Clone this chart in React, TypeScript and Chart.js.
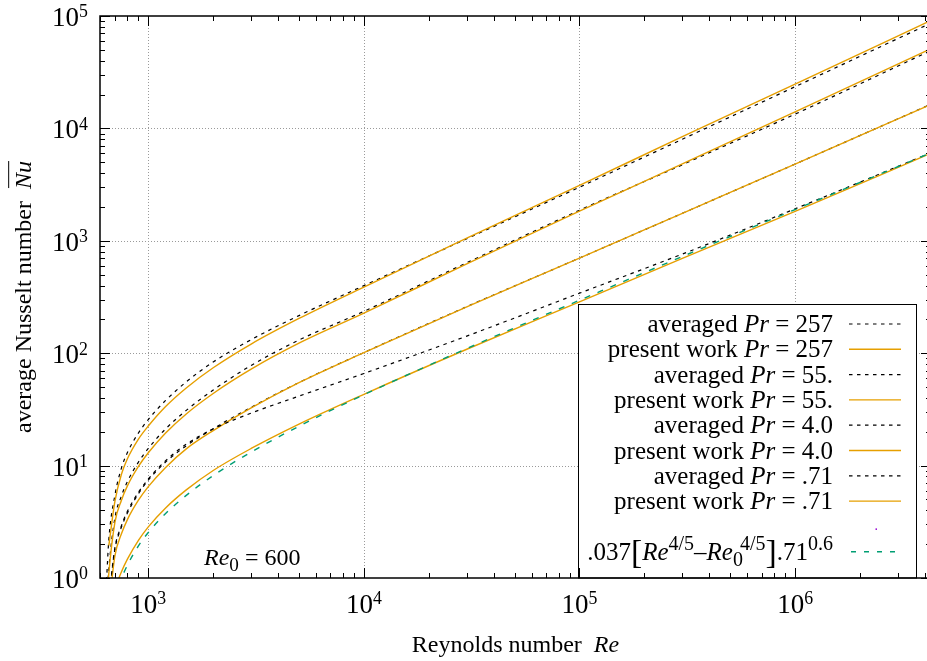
import { useEffect, useRef } from "react";
import { Chart, registerables } from "chart.js";

Chart.register(...registerables);

// Sampled Reynolds numbers shared by every curve
const reynolds = [640, 656, 700, 750, 800, 900, 1000, 1200, 1500, 2000, 3000, 5000, 1e4, 3e4, 1e5, 3e5, 1e6, 4.25e6];

// Average Nusselt number for each curve (null = not sampled)
const averaged257 = [0.95, 2.2, 5.45, 9.46, 13.06, 19.5, 25.7, 37.8, 55.6, 83.5, 132, 216, 399, 1043, 2999, 8012, 23500, 86200];
const present257 = [null, 1.94, 4.8, 8.33, 11.5, 17.2, 22.5, 33.4, 49.1, 74.2, 120.6, 203.6, 388, 1058, 3115, 8436, 24800, 91000];
const averaged55 = [0.6, 1.21, 3.42, 5.35, 7.2, 10.74, 14.2, 21.1, 31.0, 47.0, 77.8, 130.9, 235.6, 638, 1869, 4748, 13400, 49100];
const present55 = [0.55, 1.1, 3.13, 4.9, 6.6, 9.83, 13.0, 19.4, 28.8, 43.8, 72.1, 122.7, 227, 622.6, 1840, 4833, 14000, 51000];
const averaged4 = [null, 0.64, 1.8, 2.82, 3.79, 5.63, 7.43, 10.7, 15.0, 21.3, 33.0, 54.9, 101.3, 259.5, 702, 1756, 4813, 16350];
const present4 = [null, 0.55, 1.57, 2.46, 3.31, 4.92, 6.5, 9.59, 14.1, 20.5, 32.6, 54.7, 101.1, 258.8, 700.4, 1756, 4800, 16310];
const averaged071 = [null, 0.66, 1.86, 2.91, 3.92, 5.78, 7.6, 11.0, 15.5, 21.2, 29.3, 41.5, 66, 142, 342, 762, 1925, 6050];
const present071 = [null, 0.48, 0.79, 1.13, 1.47, 2.16, 2.85, 4.18, 6.08, 9.05, 14.2, 23.4, 43.1, 108.4, 285.6, 697, 1824, 5984];
const correlation071 = [null, 0.37, 0.66, 0.985, 1.3, 1.93, 2.54, 3.73, 5.43, 8.15, 13.2, 22.4, 42.7, 110, 296, 725, 1896, 6044];

// Axis ranges and tick decades
const RE_MIN = 597;
const RE_MAX = 4.27e6;
const NU_MIN = 1;
const NU_MAX = 1e5;
const xDecades = [3, 4, 5, 6];
const yDecades = [0, 1, 2, 3, 4, 5];

const legendTitles = [
  { lead: "averaged ", value: "257" },
  { lead: "present work ", value: "257" },
  { lead: "averaged ", value: "55." },
  { lead: "present work ", value: "55." },
  { lead: "averaged ", value: "4.0" },
  { lead: "present work ", value: "4.0" },
  { lead: "averaged ", value: ".71" },
  { lead: "present work ", value: ".71" },
];

const FONT = '"Liberation Serif", "Times New Roman", Times, serif';
const ORANGE = "#e69f00";
const GREEN = "#009e73";
const PURPLE = "#9400d3";

type Seg = { t: string; it?: boolean; sup?: boolean; sub?: boolean; big?: boolean; kern?: number; over?: boolean };

function segSize(s: Seg, size: number) {
  if (s.sup || s.sub) return size * 0.8;
  if (s.big) return size * 1.35;
  return size;
}
function segFont(s: Seg, size: number) {
  return `${s.it ? "italic " : ""}${segSize(s, size)}px ${FONT}`;
}
function segDy(s: Seg, size: number) {
  if (s.sup) return -size * 0.4;
  if (s.sub) return size * 0.25;
  if (s.big) return size * 0.13;
  return 0;
}
function richWidth(ctx: CanvasRenderingContext2D, segs: Seg[], size: number) {
  let w = 0;
  for (const s of segs) {
    w += s.kern || 0;
    ctx.font = segFont(s, size);
    w += ctx.measureText(s.t).width;
  }
  return w;
}
function drawRich(
  ctx: CanvasRenderingContext2D,
  segs: Seg[],
  x: number,
  y: number,
  size: number,
  align: "left" | "center" | "right"
) {
  const w = richWidth(ctx, segs, size);
  let cx = align === "left" ? x : align === "center" ? x - w / 2 : x - w;
  ctx.textAlign = "left";
  ctx.textBaseline = "alphabetic";
  ctx.fillStyle = "#000";
  for (const s of segs) {
    cx += s.kern || 0;
    ctx.font = segFont(s, size);
    const sw = ctx.measureText(s.t).width;
    ctx.fillText(s.t, cx, y + segDy(s, size));
    if (s.over) {
      ctx.save();
      ctx.strokeStyle = "#000";
      ctx.lineWidth = 1;
      ctx.beginPath();
      ctx.moveTo(cx + 1, y - size * 0.93);
      ctx.lineTo(cx + sw, y - size * 0.93);
      ctx.stroke();
      ctx.restore();
    }
    cx += sw;
  }
}

function tickLabel(ctx: CanvasRenderingContext2D, exp: number, x: number, y: number, align: "right" | "center") {
  const size = 27;
  const sup = size * 0.66;
  ctx.font = `${size}px ${FONT}`;
  const w1 = ctx.measureText("10").width;
  ctx.font = `${sup}px ${FONT}`;
  const w2 = ctx.measureText(String(exp)).width;
  const total = w1 + w2;
  const left = align === "right" ? x - total : x - total / 2;
  ctx.fillStyle = "#000";
  ctx.textAlign = "left";
  ctx.textBaseline = "alphabetic";
  ctx.font = `${size}px ${FONT}`;
  ctx.fillText("10", left, y);
  ctx.font = `${sup}px ${FONT}`;
  ctx.fillText(String(exp), left + w1, y - size * 0.32);
}

const framePlugin = {
  id: "gnuplotFrame",
  beforeDatasetsDraw(chart: any) {
    const { ctx, chartArea, scales } = chart;
    const { left, right, top, bottom } = chartArea;
    ctx.save();
    ctx.fillStyle = "#fff";
    ctx.fillRect(0, 0, chart.width, chart.height);
    ctx.strokeStyle = "#9a9a9a";
    ctx.lineWidth = 1;
    ctx.setLineDash([1, 2]);
    for (const d of xDecades) {
      const px = Math.round(scales.x.getPixelForValue(Math.pow(10, d))) + 0.5;
      ctx.beginPath();
      ctx.moveTo(px, top);
      ctx.lineTo(px, bottom);
      ctx.stroke();
    }
    for (const d of yDecades) {
      if (d === 0 || d === 5) continue;
      const py = Math.round(scales.y.getPixelForValue(Math.pow(10, d))) + 0.5;
      ctx.beginPath();
      ctx.moveTo(left, py);
      ctx.lineTo(right, py);
      ctx.stroke();
    }
    ctx.restore();
  },
  afterDatasetsDraw(chart: any) {
    const { ctx, chartArea, scales } = chart;
    const { left, right, top, bottom } = chartArea;
    ctx.save();

    // key box
    const boxL = 578.5, boxT = 304.5, boxR = 916.5;
    ctx.fillStyle = "#fff";
    ctx.fillRect(boxL, boxT, boxR - boxL, bottom - boxT);
    ctx.strokeStyle = "#000";
    ctx.lineWidth = 1;
    ctx.setLineDash([]);
    ctx.strokeRect(boxL, boxT, boxR - boxL, bottom - boxT);

    const LEG = 25;
    const textRight = 833;
    const sx0 = 849, sx1 = 901;
    const rowBase = (i: number) => 332 + 25.3 * i;
    legendTitles.forEach((t, i) => {
      drawRich(
        ctx,
        [{ t: t.lead }, { t: "Pr", it: true }, { t: " = " + t.value }],
        textRight,
        rowBase(i),
        LEG,
        "right"
      );
      const sy = rowBase(i) - 8;
      ctx.beginPath();
      if (i % 2 === 0) {
        ctx.strokeStyle = "#000";
        ctx.lineWidth = 1.2;
        ctx.setLineDash([3.5, 4.5]);
      } else {
        ctx.strokeStyle = ORANGE;
        ctx.lineWidth = 1.4;
        ctx.setLineDash([]);
      }
      ctx.moveTo(sx0, sy);
      ctx.lineTo(sx1, sy);
      ctx.stroke();
    });
    // point key for Re0
    ctx.fillStyle = PURPLE;
    ctx.fillRect(875.5, rowBase(8) - 6, 1.5, 1.5);
    // correlation key
    drawRich(
      ctx,
      [
        { t: ".037" },
        { t: "[", big: true },
        { t: "Re", it: true },
        { t: "4/5", sup: true },
        { t: "–" },
        { t: "Re", it: true },
        { t: "0", sub: true },
        { t: "4/5", sup: true, kern: -3 },
        { t: "]", big: true },
        { t: ".71" },
        { t: "0.6", sup: true },
      ],
      textRight,
      rowBase(9),
      LEG,
      "right"
    );
    ctx.beginPath();
    ctx.strokeStyle = GREEN;
    ctx.lineWidth = 1.4;
    ctx.setLineDash([5, 8]);
    ctx.moveTo(sx0 + 2, rowBase(9) - 8);
    ctx.lineTo(sx1, rowBase(9) - 8);
    ctx.stroke();

    // border
    ctx.setLineDash([]);
    ctx.strokeStyle = "#000";
    ctx.lineWidth = 1.5;
    ctx.strokeRect(left, top, right - left, bottom - top);

    // ticks
    ctx.lineWidth = 1;
    const majorLen = 10, minorLen = 5;
    for (let d = 0; d <= 5; d++) {
      for (let m = 1; m <= 9; m++) {
        const v = m * Math.pow(10, d);
        if (v < NU_MIN || v > NU_MAX) continue;
        const py = Math.round(scales.y.getPixelForValue(v)) + 0.5;
        const len = m === 1 ? majorLen : minorLen;
        ctx.beginPath();
        ctx.moveTo(left, py);
        ctx.lineTo(left + len, py);
        ctx.moveTo(right, py);
        ctx.lineTo(right - len, py);
        ctx.stroke();
      }
    }
    for (let d = 2; d <= 6; d++) {
      for (let m = 1; m <= 9; m++) {
        const v = m * Math.pow(10, d);
        if (v < RE_MIN || v > RE_MAX) continue;
        const px = Math.round(scales.x.getPixelForValue(v)) + 0.5;
        const len = m === 1 ? majorLen : minorLen;
        ctx.beginPath();
        ctx.moveTo(px, bottom);
        ctx.lineTo(px, bottom - len);
        ctx.moveTo(px, top);
        ctx.lineTo(px, top + len);
        ctx.stroke();
      }
    }

    // tick labels
    for (const d of yDecades) {
      const py = scales.y.getPixelForValue(Math.pow(10, d));
      tickLabel(ctx, d, 88, py + 10, "right");
    }
    for (const d of xDecades) {
      const px = scales.x.getPixelForValue(Math.pow(10, d));
      tickLabel(ctx, d, px, 613, "center");
    }

    // axis titles
    drawRich(ctx, [{ t: "Reynolds number  " }, { t: "Re", it: true }], (left + right) / 2, 652, 24, "center");
    ctx.save();
    ctx.translate(31, (top + bottom) / 2);
    ctx.rotate(-Math.PI / 2);
    drawRich(ctx, [{ t: "average Nusselt number  " }, { t: "Nu", it: true, over: true }], 0, 0, 24, "center");
    ctx.restore();

    // Re0 annotation
    drawRich(ctx, [{ t: "Re", it: true }, { t: "0", sub: true }, { t: " = 600" }], 204, 565, 24, "left");

    ctx.restore();
  },
};

function series(values: (number | null)[]) {
  const pts: { x: number; y: number }[] = [];
  values.forEach((v, i) => {
    if (v !== null) pts.push({ x: reynolds[i], y: v });
  });
  return pts;
}

export default function App() {
  const ref = useRef<HTMLCanvasElement>(null);
  useEffect(() => {
    const canvas = ref.current;
    if (!canvas) return;
    const dashed = (values: (number | null)[], label: string) => ({
      label,
      data: series(values),
      borderColor: "#000",
      borderWidth: 1.2,
      borderDash: [3.5, 4.5],
      pointRadius: 0,
      fill: false,
      cubicInterpolationMode: "monotone" as const,
    });
    const solid = (values: (number | null)[], label: string) => ({
      label,
      data: series(values),
      borderColor: ORANGE,
      borderWidth: 1.4,
      pointRadius: 0,
      fill: false,
      cubicInterpolationMode: "monotone" as const,
    });
    const datasets: any[] = [
      dashed(averaged257, "averaged Pr = 257"),
      solid(present257, "present work Pr = 257"),
      dashed(averaged55, "averaged Pr = 55."),
      solid(present55, "present work Pr = 55."),
      dashed(averaged4, "averaged Pr = 4.0"),
      solid(present4, "present work Pr = 4.0"),
      dashed(averaged071, "averaged Pr = .71"),
      solid(present071, "present work Pr = .71"),
      {
        label: ".037[Re^4/5-Re0^4/5].71^0.6",
        data: series(correlation071),
        borderColor: GREEN,
        borderWidth: 1.4,
        borderDash: [6, 8],
        pointRadius: 0,
        fill: false,
        cubicInterpolationMode: "monotone" as const,
      },
    ];
    datasets.forEach((ds, i) => (ds.order = datasets.length - i));

    const chart = new Chart(canvas, {
      type: "line",
      data: { datasets },
      options: {
        animation: false,
        responsive: false,
        maintainAspectRatio: false,
        devicePixelRatio: 1,
        events: [],
        layout: { padding: { left: 100, top: 16, right: 4, bottom: 83 } },
        plugins: { legend: { display: false }, tooltip: { enabled: false } },
        scales: {
          x: { type: "logarithmic", min: RE_MIN, max: RE_MAX, display: false },
          y: { type: "logarithmic", min: NU_MIN, max: NU_MAX, display: false },
        },
      },
      plugins: [framePlugin],
    });
    return () => chart.destroy();
  }, []);

  return (
    <div
      style={{
        position: "absolute",
        left: 0,
        top: 0,
        width: 927,
        height: 661,
        overflow: "hidden",
        background: "#fff",
      }}
    >
      <canvas ref={ref} width={935} height={661} style={{ width: 935, height: 661, display: "block" }} />
    </div>
  );
}
